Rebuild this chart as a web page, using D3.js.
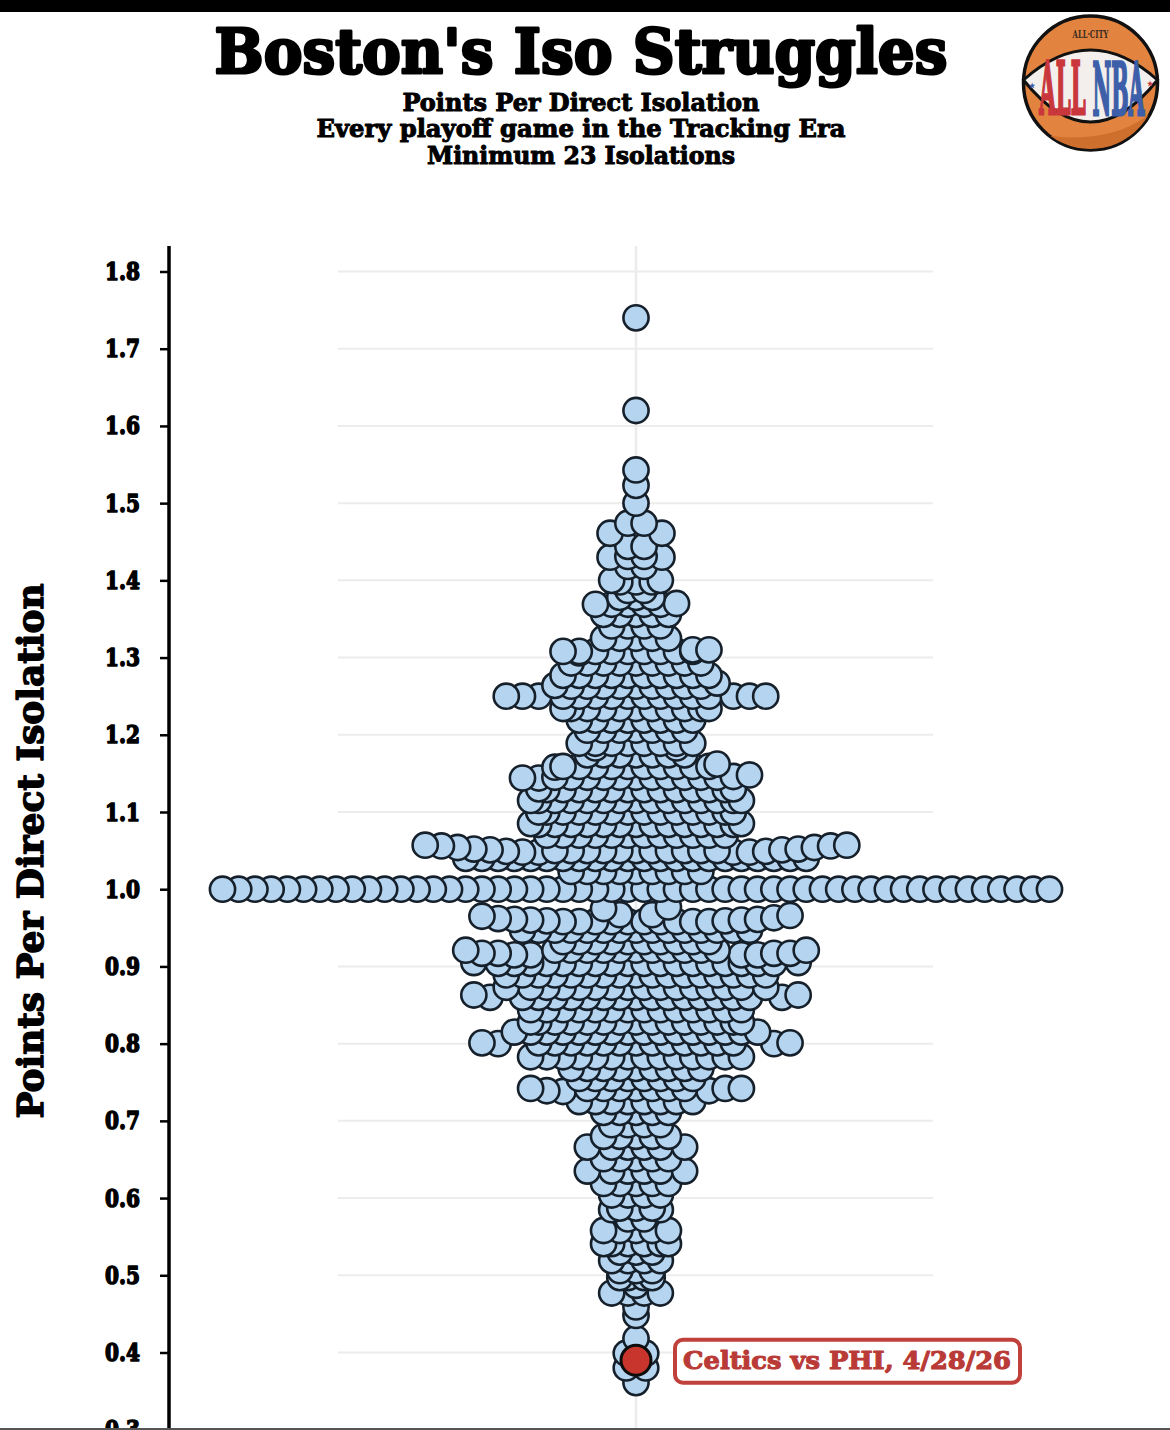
<!DOCTYPE html>
<html>
<head>
<meta charset="utf-8">
<title>Boston's Iso Struggles</title>
<script src="https://cdn.jsdelivr.net/npm/d3@7"></script>
<style>
  html, body { margin: 0; padding: 0; background: #fff; }
  svg { display: block; }
  text { font-family: "DejaVu Serif", serif; font-weight: bold; }
</style>
</head>
<body>
<script>
// values: one centred swarm row per entry
const rowValues = [
  1.740, 1.620, 1.543, 1.523, 1.500, 1.474, 1.444, 1.431, 1.418, 1.398,
  1.387, 1.378, 1.369, 1.356, 1.341, 1.325, 1.308, 1.293, 1.277, 1.263,
  1.250, 1.234, 1.219, 1.206, 1.189, 1.174, 1.159, 1.145, 1.129, 1.115,
  1.100, 1.084, 1.070, 1.050, 1.040, 1.023, 1.000, 0.958, 0.947, 0.932,
  0.921, 0.904, 0.889, 0.873, 0.860, 0.844, 0.828, 0.815, 0.801, 0.783,
  0.768, 0.755, 0.742, 0.725, 0.711, 0.695, 0.680, 0.666, 0.651, 0.635,
  0.619, 0.604, 0.587, 0.573, 0.558, 0.541, 0.530, 0.519, 0.506, 0.497,
  0.487, 0.477, 0.459, 0.448, 0.418, 0.361
];
const rowCounts = [
  1, 1, 1, 1, 1, 2, 2, 2, 2, 3,
  2, 3, 4, 5, 4, 5, 8, 9, 10, 9,
  10, 9, 8, 7, 6, 7, 10, 11, 12, 13,
  12, 13, 12, 11, 22, 9, 52, 10, 15, 10,
  11, 18, 17, 14, 15, 14, 13, 14, 13, 14,
  9, 8, 7, 8, 5, 4, 5, 4, 5, 4,
  5, 4, 3, 2, 5, 4, 3, 4, 3, 2,
  1, 2, 1, 1, 1, 1
];
// single outlying dots at the row ends, slot counted from the centre line
const wingValues = [
  1.461, 1.461, 1.430, 1.430, 1.400, 1.400, 1.369, 1.370,
  1.308, 1.306, 1.310, 1.310, 1.264, 1.267,
  1.250, 1.250, 1.250, 1.250, 1.250, 1.250, 1.234, 1.234,
  1.189, 1.189, 1.183, 1.183, 1.158, 1.162,
  1.144, 1.148, 1.144, 1.146, 1.130, 1.130, 1.115, 1.115,
  1.100, 1.100, 1.085, 1.085,
  1.057, 1.056, 1.054, 1.052, 1.051, 1.049, 1.048, 1.048,
  1.057, 1.056, 1.054, 1.052, 1.051, 1.049, 1.048, 1.048,
  0.975, 0.967, 0.967, 0.977,
  0.965, 0.962, 0.961, 0.960, 0.959,
  0.966, 0.963, 0.961, 0.960, 0.959,
  0.921, 0.917, 0.917, 0.915, 0.915,
  0.921, 0.917, 0.917, 0.915, 0.915,
  0.905, 0.905, 0.873, 0.873,
  0.863, 0.860, 0.863, 0.860, 0.828, 0.828, 0.815, 0.815,
  0.801, 0.800, 0.801, 0.800,
  0.742, 0.739, 0.738, 0.742, 0.742, 0.739,
  0.666, 0.666, 0.635, 0.635, 0.585, 0.585, 0.541, 0.541,
  0.497, 0.497, 0.477, 0.477, 0.399, 0.399, 0.380, 0.380
];
const wingSlots = [
  -1.6, 1.6, -1.6, 1.6, -1.5, 1.5, -2.5, 2.5,
  -4.5, -3.5, 3.5, 4.5, -5, 5,
  -8, -7, -6, 6, 7, 8, -4.5, 4.5,
  -3.5, 3.5, -2.5, 2.5, -5, 5,
  -7, 7, -6, 6, -6, 6, -6.5, 6.5,
  -6, 6, -6.5, 6.5,
  -13, -12, -11, -10, -9, -8, -7, -6,
  13, 12, 11, 10, 9, 8, 7, 6,
  -2, -1, 1, 2,
  -9.5, -8.5, -7.5, -6.5, -5.5,
  9.5, 8.5, 7.5, 6.5, 5.5,
  -10.5, -9.5, -8.5, -7.5, -6.5,
  10.5, 9.5, 8.5, 7.5, 6.5,
  -10, 10, -8, 8,
  -10, -9, 10, 9, -6.5, 6.5, -7.5, 7.5,
  -9.5, -8.5, 9.5, 8.5,
  -6.5, -5.5, -4.5, 6.5, 5.5, 4.5,
  -3, 3, -3, 3, -1.5, 1.5, -2, 2,
  -1, 1, -1.5, 1.5, -0.6, 0.6, -0.6, 0.6
];
const highlightValue = 0.39;
const highlightLabel = "Celtics vs PHI, 4/28/26";
const yTicks = [1.8, 1.7, 1.6, 1.5, 1.4, 1.3, 1.2, 1.1, 1.0, 0.9, 0.8, 0.7, 0.6, 0.5, 0.4, 0.3];
const titleText = "Boston's Iso Struggles";
const subtitleLines = [
  "Points Per Direct Isolation",
  "Every playoff game in the Tracking Era",
  "Minimum 23 Isolations"
];
const subtitleWidths = [357, 529, 308];

const w = 1170;
const h = 1430;

const yScale = d3.scaleLinear().domain([1.8, 0.4]).range([271.5, 1352.5]);
// x is in swarm slots, the widest row runs -25.5 to 25.5
const xScale = d3.scaleLinear().domain([-25.5, 25.5]).range([222.5, 1049.5]);

const svg = d3.select("body").append("svg").attr("width", w).attr("height", h);

svg.append("rect").attr("width", w).attr("height", 12).attr("fill", "#000");

// title block
const fat = (sel, width) => sel
  .attr("stroke", "#000")
  .attr("stroke-width", width)
  .attr("stroke-linejoin", "round");

svg.append("text")
  .text(titleText)
  .attr("x", 581).attr("y", 73)
  .attr("text-anchor", "middle")
  .attr("font-size", 62)
  .attr("textLength", 733)
  .attr("lengthAdjust", "spacingAndGlyphs")
  .call(fat, 3);

svg.selectAll("text.sub")
  .data(subtitleLines)
  .enter()
  .append("text")
  .attr("class", "sub")
  .text(d => d)
  .attr("x", 581)
  .attr("y", (d, i) => 110.5 + i * 26.5)
  .attr("text-anchor", "middle")
  .attr("font-size", 24)
  .attr("textLength", (d, i) => subtitleWidths[i])
  .attr("lengthAdjust", "spacingAndGlyphs")
  .call(fat, 1);

// gridlines
svg.append("g").selectAll("line")
  .data(yTicks.filter(d => d > 0.35))
  .enter()
  .append("line")
  .attr("x1", 338).attr("x2", 933)
  .attr("y1", d => yScale(d)).attr("y2", d => yScale(d))
  .attr("stroke", "#ececec").attr("stroke-width", 2);

svg.append("line")
  .attr("x1", xScale(0)).attr("x2", xScale(0))
  .attr("y1", 246).attr("y2", h)
  .attr("stroke", "#ececec").attr("stroke-width", 2.5);

// y axis
const yAxis = d3.axisLeft(yScale)
  .tickValues(yTicks)
  .tickSize(9)
  .tickPadding(20)
  .tickFormat(d3.format(".1f"));

const axisG = svg.append("g")
  .attr("transform", "translate(169,0)")
  .call(yAxis);
axisG.select(".domain").remove();
axisG.selectAll("line").attr("stroke", "#000").attr("stroke-width", 2.5);
axisG.selectAll("text")
  .attr("font-family", "DejaVu Serif")
  .attr("font-weight", "bold")
  .attr("font-size", 25)
  .attr("fill", "#000")
  .attr("text-anchor", "end")
  .attr("stroke", "#000")
  .attr("stroke-width", 1.6)
  .attr("stroke-linejoin", "round")
  .attr("textLength", 35)
  .attr("lengthAdjust", "spacingAndGlyphs");

svg.append("line")
  .attr("x1", 169).attr("x2", 169)
  .attr("y1", 246).attr("y2", h)
  .attr("stroke", "#000").attr("stroke-width", 3.5);

svg.append("text")
  .text("Points Per Direct Isolation")
  .attr("transform", "translate(43,851) rotate(-90)")
  .attr("text-anchor", "middle")
  .attr("font-size", 35)
  .attr("textLength", 535)
  .attr("lengthAdjust", "spacingAndGlyphs")
  .call(fat, 1.4);

// swarm, lower values first and outer dots over inner ones, so upper dots overlap
const points = rowValues.flatMap((v, i) =>
  d3.range(rowCounts[i]).map(k => ({ value: v, slot: k - (rowCounts[i] - 1) / 2 }))
).concat(wingValues.map((v, i) => ({ value: v, slot: wingSlots[i] })));
points.sort((a, b) => (a.value - b.value) || (Math.abs(a.slot) - Math.abs(b.slot)));

svg.append("g").selectAll("circle")
  .data(points)
  .enter()
  .append("circle")
  .attr("cx", d => xScale(d.slot))
  .attr("cy", d => yScale(d.value))
  .attr("r", 12.6)
  .attr("fill", "#b5d4f0")
  .attr("stroke", "#16202b")
  .attr("stroke-width", 2.6);

svg.append("circle")
  .attr("cx", xScale(0))
  .attr("cy", yScale(highlightValue))
  .attr("r", 15)
  .attr("fill", "#c8352d")
  .attr("stroke", "#0d0d0d")
  .attr("stroke-width", 3);

// callout
const labelY = yScale(highlightValue);
svg.append("rect")
  .attr("x", 675).attr("y", labelY - 20.5)
  .attr("width", 345).attr("height", 43)
  .attr("rx", 8)
  .attr("fill", "#fff")
  .attr("stroke", "#c0403b")
  .attr("stroke-width", 4);
svg.append("text")
  .text(highlightLabel)
  .attr("x", 847).attr("y", labelY + 9)
  .attr("text-anchor", "middle")
  .attr("font-size", 25)
  .attr("fill", "#b93a36")
  .attr("stroke", "#b93a36")
  .attr("stroke-width", 1.1)
  .attr("stroke-linejoin", "round")
  .attr("textLength", 328)
  .attr("lengthAdjust", "spacingAndGlyphs");

// logo
const logo = svg.append("g").attr("transform", "translate(1090.5,83)");
logo.append("circle").attr("r", 67).attr("fill", "#e2843f").attr("stroke", "#111").attr("stroke-width", 3.5);
logo.append("path")
  .attr("d", "M-40,53 A67,67 0 0 0 58,32 Q20,60 -40,53 Z")
  .attr("fill", "#cf6f2e");
logo.append("path")
  .attr("d", "M-67,-3 Q0,-63 67,-3 Q0,81 -67,-3 Z")
  .attr("fill", "#f2efec")
  .attr("stroke", "#111")
  .attr("stroke-width", 3);
logo.append("text").text("ALL·CITY")
  .attr("transform", "translate(0,-45) scale(0.62,1)")
  .attr("text-anchor", "middle")
  .attr("font-family", "'Liberation Sans'")
  .attr("font-size", 11)
  .attr("fill", "#3a2b22");
logo.append("text").text("ALL")
  .attr("transform", "translate(-28,31) scale(0.295,1)")
  .attr("text-anchor", "middle")
  .attr("font-size", 72)
  .attr("fill", "#c9373c")
  .attr("stroke", "#c9373c")
  .attr("stroke-width", 3);
logo.append("text").text("NBA")
  .attr("transform", "translate(28,32) scale(0.285,1)")
  .attr("text-anchor", "middle")
  .attr("font-size", 72)
  .attr("fill", "#3d5ea9")
  .attr("stroke", "#3d5ea9")
  .attr("stroke-width", 3);
logo.append("text").text("★")
  .attr("x", -58.5).attr("y", 5)
  .attr("text-anchor", "middle")
  .attr("font-family", "'DejaVu Sans'")
  .attr("font-size", 7)
  .attr("fill", "#3d5ea9");
logo.append("text").text("★")
  .attr("x", 59.5).attr("y", 3)
  .attr("text-anchor", "middle")
  .attr("font-family", "'DejaVu Sans'")
  .attr("font-size", 7)
  .attr("fill", "#c9373c");

// bottom edge of the screenshot
svg.append("rect").attr("y", h - 2).attr("width", w).attr("height", 2).attr("fill", "#555");
</script>
</body>
</html>
